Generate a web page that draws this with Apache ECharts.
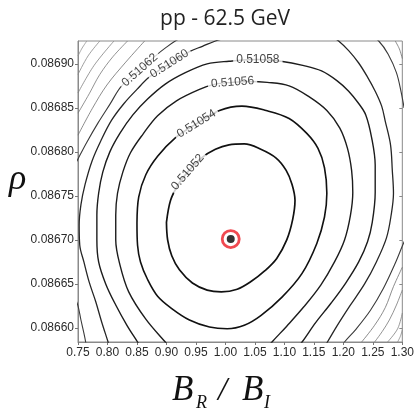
<!DOCTYPE html>
<html>
<head>
<meta charset="utf-8">
<script src="https://cdn.jsdelivr.net/npm/echarts@6/dist/echarts.min.js"></script>
<style>
  html, body { margin: 0; padding: 0; background: #fff; }
  #chart { width: 417px; height: 411px; }
</style>
</head>
<body>
<div id="chart"></div>
<script>
// Axis ranges and tick values
const xRange = [0.75, 1.30];
const yRange = [0.086584, 0.086926];
const xTicks = [0.75, 0.80, 0.85, 0.90, 0.95, 1.00, 1.05, 1.10, 1.15, 1.20, 1.25, 1.30];
const yTicks = [0.08660, 0.08665, 0.08670, 0.08675, 0.08680, 0.08685, 0.08690];

// Best-fit point (B_R/B_I, rho)
const bestFit = [1.009, 0.086701];

// Contour levels, innermost first
const levels = ['0.51052', '0.51054', '0.51056', '0.51058', '0.51060', '0.51062',
                '0.51064', '0.51066', '0.51068', '0.51070', '0.51072'];

// Contour lines: each level is a list of pieces of [B_R/B_I, rho] points
const c51052 = [[0.900,0.086720],[0.902,0.086700],[0.909,0.086682],[0.922,0.086666],[0.944,0.086651],[0.969,0.086643],[0.993,0.086641],[1.020,0.086644],[1.044,0.086653],[1.067,0.086665],[1.087,0.086679],[1.104,0.086700],[1.114,0.086723],[1.118,0.086745],[1.113,0.086763],[1.103,0.086779],[1.086,0.086793],[1.060,0.086803],[1.032,0.086809],[1.006,0.086808],[0.983,0.086803],[0.959,0.086793],[0.936,0.086777],[0.920,0.086763],[0.907,0.086745],[0.900,0.086720]];
const c51054 = [[0.850,0.086719],[0.851,0.086694],[0.856,0.086675],[0.868,0.086655],[0.885,0.086636],[0.909,0.086622],[0.939,0.086609],[0.973,0.086601],[1.003,0.086599],[1.032,0.086603],[1.060,0.086614],[1.096,0.086635],[1.130,0.086662],[1.155,0.086696],[1.168,0.086726],[1.172,0.086753],[1.168,0.086782],[1.157,0.086804],[1.138,0.086821],[1.108,0.086838],[1.069,0.086847],[1.028,0.086852],[0.990,0.086847],[0.951,0.086832],[0.915,0.086816],[0.885,0.086795],[0.865,0.086774],[0.853,0.086749],[0.850,0.086719]];
const c51056 = [[0.919,0.086568],[0.898,0.086584],[0.865,0.086610],[0.836,0.086641],[0.821,0.086672],[0.814,0.086700],[0.814,0.086728],[0.817,0.086753],[0.826,0.086777],[0.839,0.086799],[0.860,0.086820],[0.885,0.086841],[0.917,0.086858],[0.956,0.086871],[0.983,0.086877],[1.012,0.086879],[1.040,0.086880],[1.071,0.086879],[1.108,0.086875],[1.141,0.086863],[1.172,0.086847],[1.194,0.086827],[1.207,0.086804],[1.214,0.086779],[1.216,0.086754],[1.212,0.086728],[1.202,0.086700],[1.185,0.086675],[1.162,0.086649],[1.133,0.086624],[1.104,0.086602],[1.079,0.086584],[1.060,0.086569]];
const c51058 = [[0.863,0.086571],[0.851,0.086584],[0.833,0.086603],[0.814,0.086626],[0.797,0.086650],[0.785,0.086675],[0.782,0.086700],[0.782,0.086728],[0.785,0.086753],[0.792,0.086777],[0.804,0.086800],[0.821,0.086821],[0.843,0.086842],[0.868,0.086860],[0.898,0.086877],[0.932,0.086890],[0.969,0.086900],[1.006,0.086903],[1.055,0.086905],[1.094,0.086903],[1.133,0.086898],[1.163,0.086892],[1.189,0.086881],[1.209,0.086869],[1.226,0.086855],[1.238,0.086842],[1.248,0.086816],[1.254,0.086785],[1.254,0.086754],[1.249,0.086720],[1.241,0.086698],[1.226,0.086675],[1.204,0.086651],[1.179,0.086628],[1.153,0.086606],[1.130,0.086584],[1.114,0.086571]];
const c51060a = [[1.003,0.086930],[0.983,0.086926],[0.961,0.086920],[0.939,0.086914],[0.905,0.086900],[0.871,0.086885],[0.850,0.086871],[0.828,0.086855],[0.807,0.086836],[0.789,0.086813],[0.774,0.086790],[0.762,0.086763],[0.755,0.086740],[0.752,0.086717],[0.753,0.086694],[0.760,0.086675],[0.769,0.086652],[0.780,0.086630],[0.790,0.086607],[0.801,0.086584],[0.806,0.086573]];
const c51060b = [[1.180,0.086931],[1.192,0.086926],[1.209,0.086915],[1.226,0.086901],[1.241,0.086885],[1.254,0.086869],[1.265,0.086852],[1.271,0.086835],[1.280,0.086808],[1.283,0.086779],[1.285,0.086753],[1.281,0.086728],[1.273,0.086702],[1.256,0.086675],[1.236,0.086650],[1.211,0.086625],[1.189,0.086602],[1.173,0.086584],[1.162,0.086573]];
const c51062a = [[0.740,0.086779],[0.750,0.086792],[0.765,0.086811],[0.784,0.086833],[0.804,0.086854],[0.824,0.086875],[0.855,0.086893],[0.883,0.086910],[0.900,0.086919],[0.915,0.086926],[0.927,0.086930]];
const c51062b = [[1.248,0.086931],[1.260,0.086926],[1.276,0.086911],[1.290,0.086890],[1.298,0.086868],[1.303,0.086850]];
const c51062c = [[1.310,0.086709],[1.300,0.086693],[1.287,0.086672],[1.268,0.086645],[1.246,0.086620],[1.222,0.086599],[1.202,0.086584],[1.189,0.086573]];
const c51062d = [[0.745,0.086634],[0.750,0.086625],[0.755,0.086609],[0.760,0.086594],[0.763,0.086584],[0.765,0.086575]];
const c51064a = [[0.750,0.086819],[0.774,0.086849],[0.799,0.086876],[0.831,0.086902],[0.863,0.086926]];
const c51064b = [[1.288,0.086926],[1.295,0.086917],[1.300,0.086906]];
const c51064c = [[1.300,0.086669],[1.285,0.086647],[1.271,0.086623],[1.253,0.086603],[1.231,0.086584]];
const c51066a = [[0.750,0.086844],[0.769,0.086866],[0.787,0.086888],[0.809,0.086908],[0.834,0.086926]];
const c51066b = [[1.300,0.086643],[1.290,0.086626],[1.278,0.086609],[1.266,0.086596],[1.253,0.086584]];
const c51068a = [[0.750,0.086867],[0.777,0.086898],[0.811,0.086926]];
const c51068b = [[1.300,0.086617],[1.292,0.086599],[1.275,0.086584]];
const c51070a = [[0.750,0.086888],[0.767,0.086909],[0.787,0.086926]];
const c51070b = [[1.300,0.086598],[1.297,0.086591],[1.292,0.086584]];
const c51072a = [[0.750,0.086909],[0.757,0.086918],[0.765,0.086926]];

const contours = {
  '0.51052': [c51052],
  '0.51054': [c51054],
  '0.51056': [c51056],
  '0.51058': [c51058],
  '0.51060': [c51060a, c51060b],
  '0.51062': [c51062a, c51062b, c51062c, c51062d],
  '0.51064': [c51064a, c51064b, c51064c],
  '0.51066': [c51066a, c51066b],
  '0.51068': [c51068a, c51068b],
  '0.51070': [c51070a, c51070b],
  '0.51072': [c51072a]
};

// Where each level's inline label sits: [piece, point index]
const labelAt = {
  '0.51052': [0, 22],
  '0.51054': [0, 23],
  '0.51056': [0, 15],
  '0.51058': [0, 18],
  '0.51060': [0, 4],
  '0.51062': [0, 6]
};

// Line appearance per level (inner contours heavier)
const lineStyles = [
  { color: '#111', width: 1.7 }, { color: '#111', width: 1.6 },
  { color: '#1c1c1c', width: 1.4 }, { color: '#1c1c1c', width: 1.4 },
  { color: '#262626', width: 1.3 }, { color: '#3a3a3a', width: 1.1 },
  { color: '#6e6e6e', width: 0.8 }, { color: '#777', width: 0.8 },
  { color: '#808080', width: 0.8 }, { color: '#888', width: 0.8 },
  { color: '#909090', width: 0.8 }
];

const chart = echarts.init(document.getElementById('chart'), null, { renderer: 'canvas' });

const axisFont = { fontFamily: 'Liberation Sans', fontSize: 12, color: '#2a2a2a' };
const serif = '"Liberation Serif", "DejaVu Serif", serif';

const lineSeries = [];
levels.forEach((lv, i) => {
  contours[lv].forEach(piece => {
    lineSeries.push({
      type: 'line',
      data: piece,
      showSymbol: false,
      symbol: 'none',
      smooth: 0.35,
      clip: true,
      silent: true,
      z: 2,
      lineStyle: { color: lineStyles[i].color, width: lineStyles[i].width }
    });
  });
});

const markerSeries = [
  { type: 'scatter', data: [bestFit], symbol: 'circle', symbolSize: 17, z: 6, silent: true,
    itemStyle: { color: '#fff', borderColor: '#ec1c24', borderWidth: 2.8 } },
  { type: 'scatter', data: [bestFit], symbol: 'circle', symbolSize: 8, z: 7, silent: true,
    itemStyle: { color: '#000' } }
];

const option = {
  animation: false,
  backgroundColor: '#fff',
  grid: { left: 78, top: 41, width: 326, height: 301, show: true,
          borderColor: '#8a8a8a', borderWidth: 1, backgroundColor: 'transparent' },
  xAxis: {
    type: 'value', min: xRange[0], max: xRange[1],
    axisLine: { show: true, lineStyle: { color: '#8a8a8a', width: 1 } },
    axisTick: { show: true, length: 3, lineStyle: { color: '#777' }, customValues: xTicks },
    axisLabel: Object.assign({ margin: 5, customValues: xTicks,
                formatter: v => v.toFixed(2) }, axisFont),
    splitLine: { show: false }
  },
  yAxis: [{
    type: 'value', min: yRange[0], max: yRange[1],
    axisLine: { show: true, lineStyle: { color: '#8a8a8a', width: 1 } },
    axisTick: { show: true, length: 3, lineStyle: { color: '#777' }, customValues: yTicks },
    axisLabel: Object.assign({ margin: 4, customValues: yTicks,
                formatter: v => v.toFixed(5) }, axisFont),
    splitLine: { show: false }
  }, {
    type: 'value', min: yRange[0], max: yRange[1], position: 'right',
    axisLine: { show: false },
    axisTick: { show: true, inside: true, length: 3, lineStyle: { color: '#888' }, customValues: yTicks },
    axisLabel: { show: false },
    splitLine: { show: false }
  }],
  graphic: [
    { type: 'text', x: 225, y: 19, style: { text: 'pp - 62.5 GeV', align: 'center', verticalAlign: 'middle',
      font: '21px "Open Sans"', fill: '#222' } },
    { type: 'text', x: 9, y: 180, style: { text: 'ρ', align: 'left', verticalAlign: 'middle',
      font: 'italic 36px ' + serif, fill: '#111' } },
    { type: 'text', x: 172, y: 391, style: { text: 'B', align: 'left', verticalAlign: 'middle',
      font: 'italic 35px ' + serif, fill: '#111' } },
    { type: 'text', x: 196, y: 403, style: { text: 'R', align: 'left', verticalAlign: 'middle',
      font: 'italic 18px ' + serif, fill: '#111' } },
    { type: 'text', x: 218, y: 391, style: { text: '/', align: 'left', verticalAlign: 'middle',
      font: 'italic 33px ' + serif, fill: '#111' } },
    { type: 'text', x: 242, y: 391, style: { text: 'B', align: 'left', verticalAlign: 'middle',
      font: 'italic 35px ' + serif, fill: '#111' } },
    { type: 'text', x: 264, y: 403, style: { text: 'I', align: 'left', verticalAlign: 'middle',
      font: 'italic 18px ' + serif, fill: '#111' } }
  ],
  series: lineSeries.concat(markerSeries)
};

chart.setOption(option);

// Inline level labels, rotated along the contour through the chart's own scales
const labelData = [];
Object.keys(labelAt).forEach(lv => {
  const [pi, idx] = labelAt[lv];
  const piece = contours[lv][pi];
  const a = chart.convertToPixel({ gridIndex: 0 }, piece[idx - 1]);
  const b = chart.convertToPixel({ gridIndex: 0 }, piece[idx + 1]);
  let deg = -Math.atan2(b[1] - a[1], b[0] - a[0]) * 180 / Math.PI;
  if (deg > 90) deg -= 180;
  if (deg < -90) deg += 180;
  labelData.push({
    value: piece[idx],
    label: { show: true, formatter: lv, rotate: deg }
  });
});

chart.setOption({
  series: lineSeries.concat(markerSeries, [{
    type: 'scatter', data: labelData, symbol: 'circle', symbolSize: 1, z: 5, silent: true,
    itemStyle: { color: 'rgba(0,0,0,0)' },
    label: { show: true, position: 'inside', fontFamily: 'Liberation Sans', fontSize: 12,
             color: '#111', backgroundColor: '#fff', padding: [0, 3] }
  }])
});
</script>
</body>
</html>
